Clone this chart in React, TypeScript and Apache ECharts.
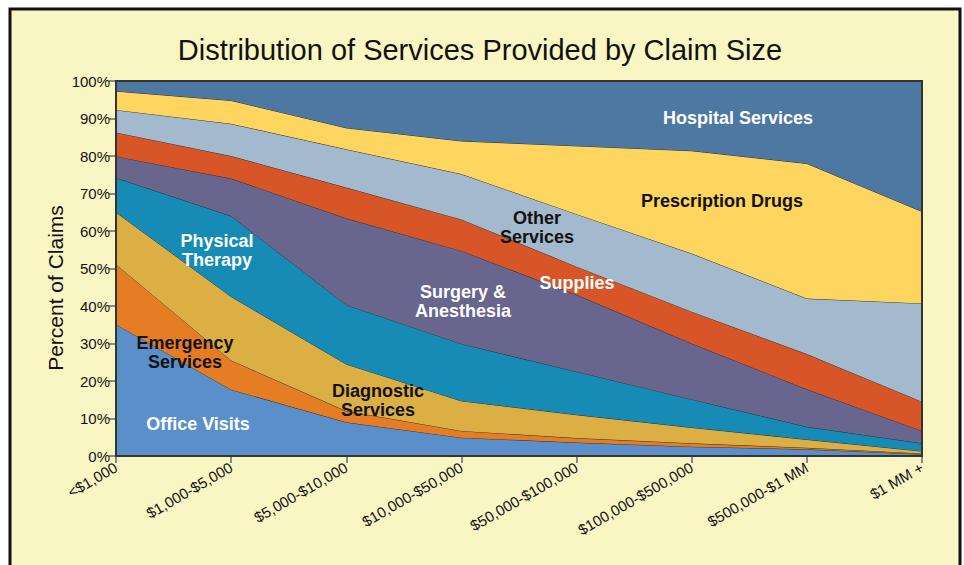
import React, { useEffect, useRef } from "react";
import * as echarts from "echarts";

const categories = [
  "<$1,000",
  "$1,000-$5,000",
  "$5,000-$10,000",
  "$10,000-$50,000",
  "$50,000-$100,000",
  "$100,000-$500,000",
  "$500,000-$1 MM",
  "$1 MM +",
];

// percent of claims, stacked from bottom to top
const officeVisits = [35.1, 17.7, 9.0, 4.9, 3.6, 2.5, 1.8, 0.5];
const emergencyServices = [16.0, 7.8, 3.0, 1.8, 1.2, 0.9, 0.4, 0.2];
const diagnosticServices = [13.9, 17.0, 12.5, 8.0, 6.2, 4.2, 2.2, 0.6];
const physicalTherapy = [9.2, 21.5, 15.8, 15.2, 11.5, 7.5, 3.4, 2.1];
const surgeryAnesthesia = [5.7, 10.0, 23.1, 24.8, 20.5, 14.9, 10.0, 3.3];
const supplies = [6.4, 6.0, 8.2, 8.4, 7.5, 8.5, 9.4, 7.8];
const otherServices = [6.0, 8.6, 10.2, 12.1, 14.0, 15.5, 14.8, 26.2];
const prescriptionDrugs = [5.0, 6.2, 5.7, 8.8, 18.2, 27.4, 36.0, 24.5];
const hospitalServices = [2.7, 5.2, 12.5, 16.0, 17.3, 18.6, 22.0, 34.8];

const seriesNames = [
  "Office Visits",
  "Emergency Services",
  "Diagnostic Services",
  "Physical Therapy",
  "Surgery & Anesthesia",
  "Supplies",
  "Other Services",
  "Prescription Drugs",
  "Hospital Services",
];
const seriesData = [
  officeVisits,
  emergencyServices,
  diagnosticServices,
  physicalTherapy,
  surgeryAnesthesia,
  supplies,
  otherServices,
  prescriptionDrugs,
  hospitalServices,
];
const seriesColors = [
  "#5B8FCA",
  "#E57D24",
  "#DBAF43",
  "#168BB5",
  "#68658E",
  "#D85527",
  "#A3B9CD",
  "#FDD55F",
  "#4D78A1",
];

const FONT = "'Liberation Sans', Arial, Helvetica, sans-serif";

export default function App() {
  const ref = useRef<HTMLDivElement>(null);
  useEffect(() => {
    if (!ref.current) return;
    const chart = echarts.init(ref.current, null, { renderer: "svg" });
    const gridL = 116,
      gridT = 81,
      gridR = 42,
      gridB = 109;
    const plotW = 964 - gridL - gridR;
    const plotH = 565 - gridT - gridB;

    const label = (text: string, x: number, y: number, color: string) => ({
      type: "text",
      x,
      y,
      z: 50,
      style: {
        text,
        fill: color,
        font: `bold 18px ${FONT}`,
        align: "center",
        verticalAlign: "middle",
        lineHeight: 19,
      },
    });

    chart.setOption({
      animation: false,
      backgroundColor: "#ffffff",
      textStyle: { fontFamily: FONT },
      grid: { left: gridL, right: gridR, top: gridT, bottom: gridB },
      xAxis: {
        type: "category",
        data: categories,
        boundaryGap: false,
        axisLine: { show: true, lineStyle: { color: "#333", width: 2 } },
        axisTick: { show: true, length: 7, lineStyle: { color: "#666", width: 1.5 } },
        axisLabel: {
          rotate: 30,
          fontSize: 15,
          color: "#111",
          fontFamily: FONT,
          margin: 10,
          interval: 0,
        },
        splitLine: { show: false },
      },
      yAxis: {
        type: "value",
        min: 0,
        max: 100,
        interval: 10,
        axisLine: { show: true, lineStyle: { color: "#333", width: 2 } },
        axisTick: { show: true, length: 7, lineStyle: { color: "#666", width: 1.5 } },
        axisLabel: {
          formatter: "{value}%",
          fontSize: 15,
          color: "#111",
          fontFamily: FONT,
          margin: 6,
        },
        splitLine: { show: false },
      },
      series: seriesNames.map((name, i) => ({
        name,
        type: "line",
        stack: "total",
        data: seriesData[i],
        symbol: "none",
        smooth: false,
        lineStyle: { color: "#2a2a2a", width: 1 },
        areaStyle: { color: seriesColors[i], opacity: 1 },
        itemStyle: { color: seriesColors[i] },
        z: 2 + i,
      })),
      graphic: [
        {
          type: "rect",
          z: -10,
          shape: { x: 10, y: 9, width: 950, height: 600 },
          style: { fill: "#FAF6C4", stroke: "#111", lineWidth: 3 },
        },
        {
          type: "rect",
          z: 100,
          shape: { x: gridL, y: gridT, width: plotW, height: plotH },
          style: { fill: null, stroke: "#333", lineWidth: 2 },
        },
        {
          type: "text",
          x: 480,
          y: 50,
          style: {
            text: "Distribution of Services Provided by Claim Size",
            fill: "#111",
            font: `29px ${FONT}`,
            align: "center",
            verticalAlign: "middle",
          },
        },
        {
          type: "text",
          x: 55,
          y: 288,
          rotation: Math.PI / 2,
          style: {
            text: "Percent of Claims",
            fill: "#111",
            font: `21px ${FONT}`,
            align: "center",
            verticalAlign: "middle",
          },
        },
        label("Hospital Services", 738, 118, "#ffffff"),
        label("Prescription Drugs", 722, 201, "#111"),
        label("Other\nServices", 537, 227, "#111"),
        label("Supplies", 577, 283, "#ffffff"),
        label("Surgery &\nAnesthesia", 463, 301, "#ffffff"),
        label("Physical\nTherapy", 217, 250, "#ffffff"),
        label("Emergency\nServices", 185, 352, "#111"),
        label("Diagnostic\nServices", 378, 400, "#111"),
        label("Office Visits", 198, 424, "#ffffff"),
      ],
    });
    return () => chart.dispose();
  }, []);
  return (
    <div
      ref={ref}
      style={{ position: "fixed", left: 0, top: 0, width: 964, height: 565 }}
    />
  );
}
